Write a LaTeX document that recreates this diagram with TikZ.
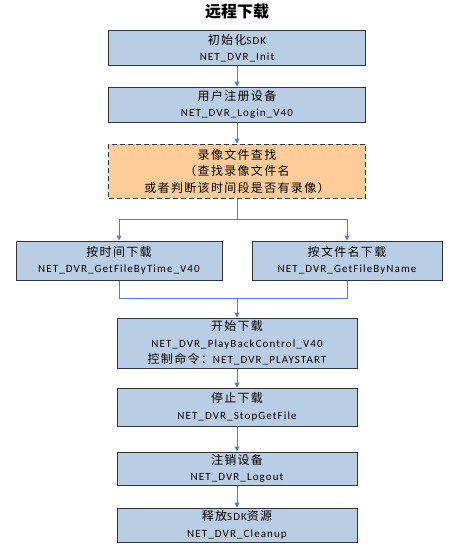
\documentclass[tikz,border=0pt]{standalone}
\usepackage{fontspec}
\setmainfont{Carlito}[LetterSpace=10]
\newfontfamily\cjk{Noto Sans CJK SC}[LetterSpace=11]
\newfontfamily\cjktitle{Noto Sans CJK SC}
\newcommand{\cn}[1]{{\cjk\fontsize{12}{16.5}\selectfont #1}}
\usetikzlibrary{arrows.meta, positioning}
\definecolor{boxblue}{RGB}{185,205,229}
\definecolor{boxpeach}{RGB}{255,204,153}
\definecolor{linkblue}{RGB}{79,129,189}

\begin{document}
\begin{tikzpicture}[x=1pt, y=-1pt, >={Triangle[width=5pt,length=5pt]},
  box/.style={draw=black!80, line width=1pt, fill=boxblue, align=center,
              inner sep=0pt, font=\fontsize{11}{16.5}\selectfont},
  findbox/.style={box, fill=boxpeach, dash pattern=on 5pt off 3pt},
  wire/.style={draw=linkblue, line width=1pt},
  link/.style={wire, ->}]
\useasboundingbox (0,0) rectangle (456,551);
\node[font=\cjktitle\bfseries\fontsize{16}{18}\selectfont] (title) at (237,12) {远程下载};
% main column
\node[box, minimum width=257pt, minimum height=34pt] (init) at (237,48)
  {\cn{初始化}SDK\\NET\_DVR\_Init};
\node[box, minimum width=257pt, minimum height=35pt] (login) at (237,104.5)
  {\cn{用户注册设备}\\NET\_DVR\_Login\_V40};
\node[findbox, minimum width=257pt, minimum height=54pt] (find) at (237,171)
  {\cn{录像文件查找}\\\cn{（查找录像文件名}\\\cn{或者判断该时间段是否有录像）}};
% two ways to download
\node[box, minimum width=206pt, minimum height=39pt] (bytime) at (119,260.5)
  {\cn{按时间下载}\\NET\_DVR\_GetFileByTime\_V40};
\node[box, minimum width=190pt, minimum height=39pt] (byname) at (347,260.5)
  {\cn{按文件名下载}\\NET\_DVR\_GetFileByName};
\node[box, minimum width=240pt, minimum height=50pt] (start) at (237,343)
  {\cn{开始下载}\\NET\_DVR\_PlayBackControl\_V40\\\cn{控制命令：}NET\_DVR\_PLAYSTART};
\node[box, minimum width=240pt, minimum height=38pt] (stop) at (237,407)
  {\cn{停止下载}\\NET\_DVR\_StopGetFile};
\node[box, minimum width=240pt, minimum height=33pt] (logout) at (237,468.5)
  {\cn{注销设备}\\NET\_DVR\_Logout};
\node[box, minimum width=240pt, minimum height=34pt] (cleanup) at (237,525)
  {\cn{释放}SDK\cn{资源}\\NET\_DVR\_Cleanup};
\coordinate (split) at (237,219);
\coordinate (join) at (237,298);
% connectors
\draw[link] (init) -- (login);
\draw[link] (login) -- (find);
\draw[wire] (find.south) -- (split);
\draw[link] (split) -| (bytime.north);
\draw[link] (split) -| (byname.north);
\draw[wire] (bytime.south) |- (join);
\draw[wire] (byname.south) |- (join);
\draw[link] (join) -- (start);
\draw[link] (start) -- (stop);
\draw[link] (stop) -- (logout);
\draw[link] (logout) -- (cleanup);
\end{tikzpicture}
\end{document}
